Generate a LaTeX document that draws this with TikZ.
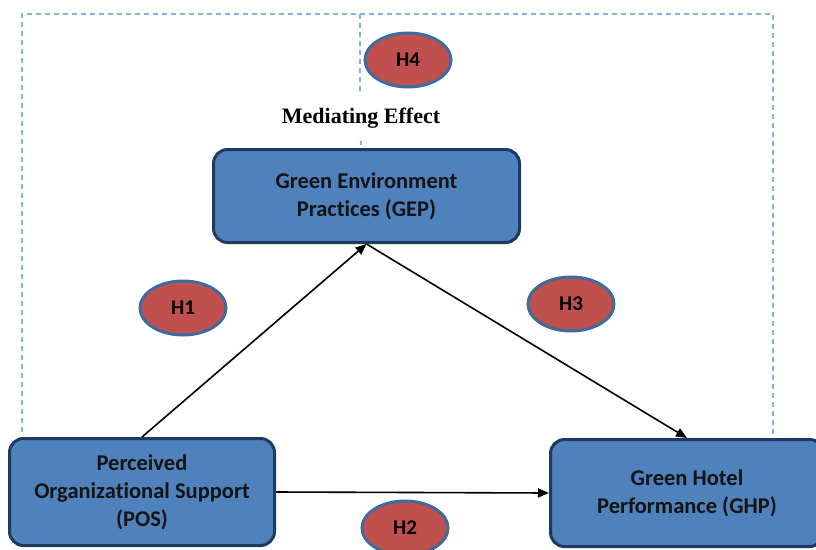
\documentclass[tikz,border=0pt]{standalone}
\usepackage{fontspec}
\setmainfont[Ligatures=NoCommon]{Carlito}
\newfontfamily\timesfont{Liberation Serif}
\usetikzlibrary{shapes.geometric,arrows.meta}
\definecolor{boxfill}{HTML}{4F81BD}
\definecolor{boxline}{HTML}{1F3A5F}
\definecolor{hypfill}{HTML}{C0504D}
\definecolor{hypline}{HTML}{3E6B9E}
\definecolor{dashblue}{HTML}{7FB2E5}
\begin{document}
\begin{tikzpicture}[x=1pt,y=-1pt,
  varbox/.style={draw=boxline,fill=boxfill,line width=3pt,rounded corners=14pt,
    align=center,font=\fontsize{22.5}{28}\selectfont\bfseries,text=black!92,inner sep=0pt},
  hyp/.style={ellipse,draw=hypline,fill=hypfill,line width=3pt,minimum width=86pt,
    minimum height=54pt,inner sep=0pt,font=\fontsize{21}{24}\selectfont\bfseries,text=black},
  link/.style={line width=1.6pt,-{Triangle[length=11pt,width=9pt]}},
  frame/.style={dashblue,line width=1.3pt,dash pattern=on 5pt off 4pt}]
\useasboundingbox (0,0) rectangle (816,549);
% dashed frame
\draw[frame] (22,432) -- (22,14) -- (773,14) -- (773,435);
\draw[frame] (360,14) -- (360,95);
\draw[frame] (361,141) -- (361,145);
% nodes
\node[varbox,minimum width=306pt,minimum height=93pt] (gep) at (366.5,196) {Green Environment\\Practices (GEP)};
\node[varbox,minimum width=265pt,minimum height=107pt] (pos) at (142,492) {Perceived\\Organizational Support\\(POS)};
\node[varbox,minimum width=273pt,minimum height=107pt] (ghp) at (687,493) {Green Hotel\\Performance (GHP)};
\node[hyp] (h4) at (408,60) {H4};
\node[hyp] (h1) at (183,308) {H1};
\node[hyp] (h3) at (571,304) {H3};
\node[hyp] (h2) at (405,528) {H2};
\node[font=\timesfont\fontsize{22}{24}\selectfont\bfseries] (med) at (361,118) {Mediating Effect};
% connectors
\draw[link] (pos.north) -- (gep.south);
\draw[link] (gep.south) -- (ghp.north);
\draw[link] (pos.east) -- (ghp.west);
\end{tikzpicture}
\end{document}
